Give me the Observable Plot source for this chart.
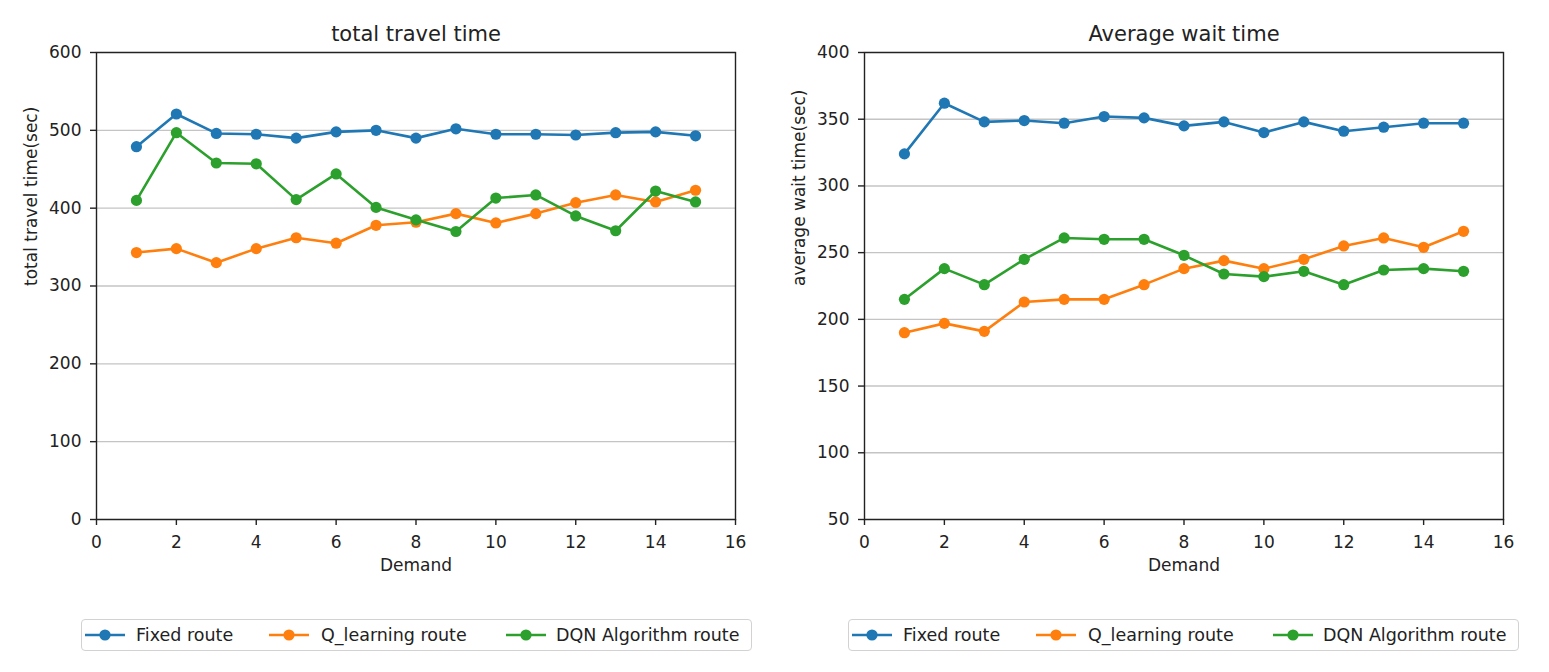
<!DOCTYPE html>
<html>
<head>
<meta charset="utf-8">
<script src="https://cdn.jsdelivr.net/npm/d3@7"></script>
<script src="https://cdn.jsdelivr.net/npm/@observablehq/plot@0.6"></script>
<style>
  body { margin: 0; background: #fff; font-family: "DejaVu Sans", sans-serif; color: #222; }
  #wrap { position: relative; width: 1549px; height: 672px; overflow: hidden; background: #fff; }
  .panel { position: absolute; top: 0; }
  .legend { position: absolute; top: 619px; height: 32px; width: 671px; border: 1px solid #d2d2d2; border-radius: 4px; box-sizing: border-box; background: #fff; }
  .item { position: absolute; top: 0; height: 30px; display: flex; align-items: center; font-size: 17.5px; white-space: nowrap; }
  .handle { position: absolute; top: 0; height: 30px; display: flex; align-items: center; }
</style>
</head>
<body>
<div id="wrap"></div>
<script>
// ---- data ----
const demand = [1, 2, 3, 4, 5, 6, 7, 8, 9, 10, 11, 12, 13, 14, 15];
const seriesNames = ["Fixed route", "Q_learning route", "DQN Algorithm route"];
const seriesColors = ["#1f77b4", "#ff7f0e", "#2ca02c"];

const fixedTravel = [479, 521, 496, 495, 490, 498, 500, 490, 502, 495, 495, 494, 497, 498, 493];
const qTravel     = [343, 348, 330, 348, 362, 355, 378, 382, 393, 381, 393, 407, 417, 408, 423];
const dqnTravel   = [410, 497, 458, 457, 411, 444, 401, 385, 370, 413, 417, 390, 371, 422, 408];

const fixedWait = [324, 362, 348, 349, 347, 352, 351, 345, 348, 340, 348, 341, 344, 347, 347];
const qWait     = [190, 197, 191, 213, 215, 215, 226, 238, 244, 238, 245, 255, 261, 254, 266];
const dqnWait   = [215, 238, 226, 245, 261, 260, 260, 248, 234, 232, 236, 226, 237, 238, 236];

const xTicks = [0, 2, 4, 6, 8, 10, 12, 14, 16];
const travelTicks = [0, 100, 200, 300, 400, 500, 600];
const waitTicks = [50, 100, 150, 200, 250, 300, 350, 400];

const titles = ["total travel time", "Average wait time"];
const yLabels = ["total travel time(sec)", "average wait time(sec)"];
const xLabel = "Demand";

// ---- build ----
function tidy(arrays) {
  const rows = [];
  arrays.forEach((arr, i) => arr.forEach((v, j) => rows.push({demand: demand[j], value: v, series: seriesNames[i]})));
  return rows;
}

function makePanel({title, ylabel, yDomain, yTicks, arrays}) {
  const rows = tidy(arrays);
  const seriesMarks = [];
  seriesNames.forEach(s => {
    const d = rows.filter(r => r.series === s);
    seriesMarks.push(Plot.line(d, {x: "demand", y: "value", stroke: "series", strokeWidth: 2.6}));
    seriesMarks.push(Plot.dot(d, {x: "demand", y: "value", fill: "series", r: 5.6}));
  });
  return Plot.plot({
    width: 760, height: 600,
    marginLeft: 96, marginRight: 25, marginTop: 52, marginBottom: 81,
    x: {domain: [0, 16]},
    y: {domain: yDomain},
    color: {domain: seriesNames, range: seriesColors},
    style: {fontFamily: "DejaVu Sans", fontSize: "17px", color: "#222", background: "transparent", overflow: "visible"},
    marks: [
      Plot.gridY(yTicks, {stroke: "#c4c4c4", strokeOpacity: 1, strokeWidth: 1.4}),
      ...seriesMarks,
      Plot.frame({stroke: "#222", strokeWidth: 1.4}),
      Plot.axisX(xTicks, {tickSize: 6, tickPadding: 10, fontSize: 17, label: null, strokeWidth: 1.4}),
      Plot.axisY(yTicks, {tickSize: 6, tickPadding: 9, fontSize: 17, label: null, strokeWidth: 1.4}),
      Plot.text([title], {frameAnchor: "top", dy: -26, fontSize: 21, text: d => d}),
      Plot.text([ylabel], {frameAnchor: "left", dx: -65, rotate: -90, fontSize: 17, text: d => d}),
      Plot.text([xLabel], {frameAnchor: "bottom", dy: 51, fontSize: 17, text: d => d})
    ]
  });
}

function makeLegend(left) {
  const box = document.createElement("div");
  box.className = "legend";
  box.style.left = left + "px";
  const handleX = [3, 187, 424];
  const textX = [54, 239, 474];
  seriesNames.forEach((name, i) => {
    const h = document.createElement("div");
    h.className = "handle";
    h.style.left = handleX[i] + "px";
    h.innerHTML = `<svg width="40" height="14"><line x1="0" x2="40" y1="7" y2="7" stroke="${seriesColors[i]}" stroke-width="2.6"/><circle cx="20" cy="7" r="5.6" fill="${seriesColors[i]}"/></svg>`;
    box.appendChild(h);
    const t = document.createElement("div");
    t.className = "item";
    t.style.left = textX[i] + "px";
    t.textContent = name;
    box.appendChild(t);
  });
  return box;
}

const wrap = document.getElementById("wrap");
const configs = [
  {left: 0, title: titles[0], ylabel: yLabels[0], yDomain: [0, 600], yTicks: travelTicks, arrays: [fixedTravel, qTravel, dqnTravel]},
  {left: 768, title: titles[1], ylabel: yLabels[1], yDomain: [50, 400], yTicks: waitTicks, arrays: [fixedWait, qWait, dqnWait]}
];
configs.forEach(c => {
  const div = document.createElement("div");
  div.className = "panel";
  div.style.left = c.left + "px";
  div.appendChild(makePanel(c));
  wrap.appendChild(div);
});
wrap.appendChild(makeLegend(81));
wrap.appendChild(makeLegend(848));
</script>
</body>
</html>
